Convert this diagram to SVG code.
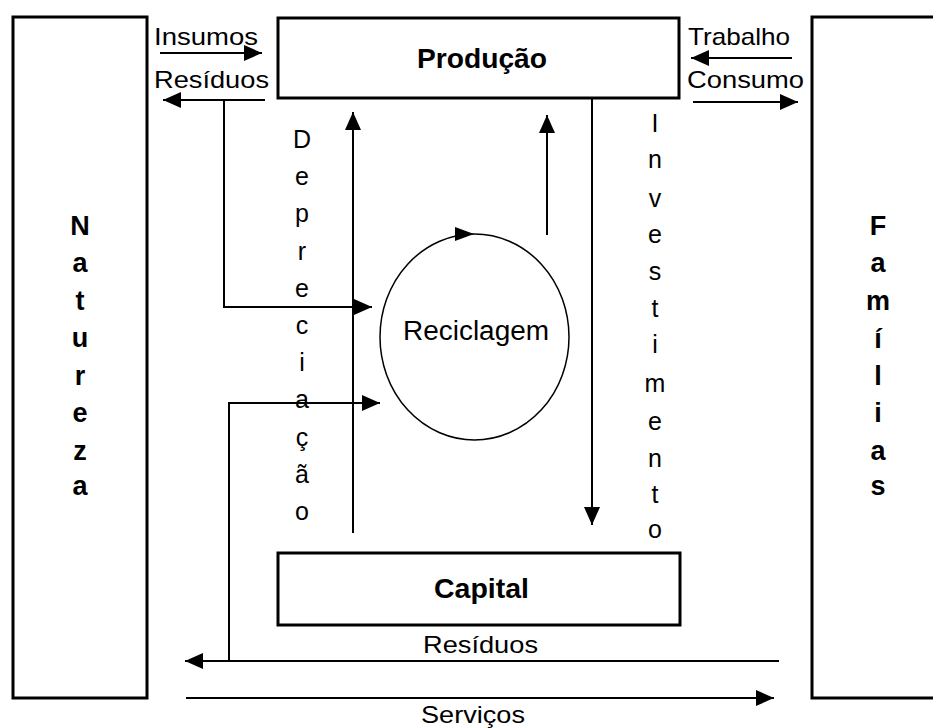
<svg xmlns="http://www.w3.org/2000/svg" width="933" height="728" viewBox="0 0 933 728">
<style>
.box{fill:#fff;stroke:#000;stroke-width:3}
.ln{fill:none;stroke:#000;stroke-width:2}
.lbl{font-family:"Liberation Sans",Arial,sans-serif;font-size:24px;fill:#000}
.big{font-family:"Liberation Sans",Arial,sans-serif;font-size:28px;font-weight:bold;fill:#000}
.vl{font-family:"Liberation Sans",Arial,sans-serif;font-size:25px;fill:#000;text-anchor:middle}
.vb{font-family:"Liberation Sans",Arial,sans-serif;font-size:27px;font-weight:bold;fill:#000;text-anchor:middle}
</style>
<defs>
<marker id="ah" markerUnits="userSpaceOnUse" markerWidth="18" markerHeight="16" refX="18" refY="8" orient="auto">
<path d="M0,0 L18,8 L0,16 z" fill="#000"/>
</marker>
</defs>
<rect width="933" height="728" fill="#fff"/>

<g id="natureza">
<rect class="box" x="13" y="17" width="134" height="681"/>
<text class="vb"><tspan x="80" y="235">N</tspan><tspan x="80" y="272">a</tspan><tspan x="80" y="310">t</tspan><tspan x="80" y="347">u</tspan><tspan x="80" y="385">r</tspan><tspan x="80" y="422">e</tspan><tspan x="80" y="460">z</tspan><tspan x="80" y="495">a</tspan></text>
</g>

<g id="familias">
<rect class="box" x="812" y="17" width="130" height="681"/>
<text class="vb"><tspan x="878" y="235">F</tspan><tspan x="878" y="272">a</tspan><tspan x="878" y="310">m</tspan><tspan x="878" y="348">í</tspan><tspan x="878" y="385">l</tspan><tspan x="878" y="422">i</tspan><tspan x="878" y="460">a</tspan><tspan x="878" y="495">s</tspan></text>
</g>

<g id="producao">
<rect class="box" x="278" y="18" width="401" height="80"/>
<text class="big" x="417" y="68" textLength="130" lengthAdjust="spacingAndGlyphs">Produção</text>
</g>

<g id="capital">
<rect class="box" x="278" y="553" width="402" height="72"/>
<text class="big" x="434" y="598" textLength="95" lengthAdjust="spacingAndGlyphs">Capital</text>
</g>

<g id="reciclagem">
<ellipse cx="474.5" cy="337" rx="94.5" ry="103" fill="none" stroke="#000" stroke-width="1.5"/>
<text class="lbl" x="403" y="340" font-size="27" textLength="146" lengthAdjust="spacingAndGlyphs" style="font-size:27px">Reciclagem</text>
</g>

<g id="connectors">
<line class="ln" x1="160" y1="53" x2="262" y2="53" marker-end="url(#ah)"/>
<line class="ln" x1="265" y1="100" x2="163" y2="100" marker-end="url(#ah)"/>
<polyline class="ln" points="224,100 224,307 372,307" marker-end="url(#ah)"/>
<line class="ln" x1="353" y1="533" x2="353" y2="112" marker-end="url(#ah)"/>
<line class="ln" x1="547" y1="235" x2="547" y2="115" marker-end="url(#ah)"/>
<line class="ln" x1="592" y1="98" x2="592" y2="525" marker-end="url(#ah)"/>
<path d="M455,227 L474,234 L455,241 z" fill="#000"/>
<polyline class="ln" points="229,661 229,403 380,403" marker-end="url(#ah)"/>
<line class="ln" x1="792" y1="58" x2="691" y2="58" marker-end="url(#ah)"/>
<line class="ln" x1="693" y1="102" x2="798" y2="102" marker-end="url(#ah)"/>
<line class="ln" x1="779" y1="661" x2="185" y2="661" marker-end="url(#ah)"/>
<line class="ln" x1="186" y1="698" x2="774" y2="698" marker-end="url(#ah)"/>
</g>

<g id="labels">
<text class="lbl" x="154" y="45" textLength="104" lengthAdjust="spacingAndGlyphs">Insumos</text>
<text class="lbl" x="154" y="88" textLength="115" lengthAdjust="spacingAndGlyphs">Resíduos</text>
<text class="lbl" x="688" y="45" textLength="102" lengthAdjust="spacingAndGlyphs">Trabalho</text>
<text class="lbl" x="687" y="88" textLength="117" lengthAdjust="spacingAndGlyphs">Consumo</text>
<text class="lbl" x="423" y="653" textLength="115" lengthAdjust="spacingAndGlyphs">Resíduos</text>
<text class="lbl" x="421" y="723" textLength="104" lengthAdjust="spacingAndGlyphs">Serviços</text>
<text class="vl"><tspan x="302" y="148">D</tspan><tspan x="302" y="185">e</tspan><tspan x="302" y="222">p</tspan><tspan x="302" y="260">r</tspan><tspan x="302" y="297">e</tspan><tspan x="302" y="334">c</tspan><tspan x="302" y="371">i</tspan><tspan x="302" y="408">a</tspan><tspan x="302" y="446">ç</tspan><tspan x="302" y="483">ã</tspan><tspan x="302" y="520">o</tspan></text>
<text class="vl"><tspan x="655" y="132">I</tspan><tspan x="655" y="168">n</tspan><tspan x="655" y="207">v</tspan><tspan x="655" y="243">e</tspan><tspan x="655" y="280">s</tspan><tspan x="655" y="317">t</tspan><tspan x="655" y="353">i</tspan><tspan x="655" y="392">m</tspan><tspan x="655" y="430">e</tspan><tspan x="655" y="467">n</tspan><tspan x="655" y="503">t</tspan><tspan x="655" y="538">o</tspan></text>
</g>
</svg>
